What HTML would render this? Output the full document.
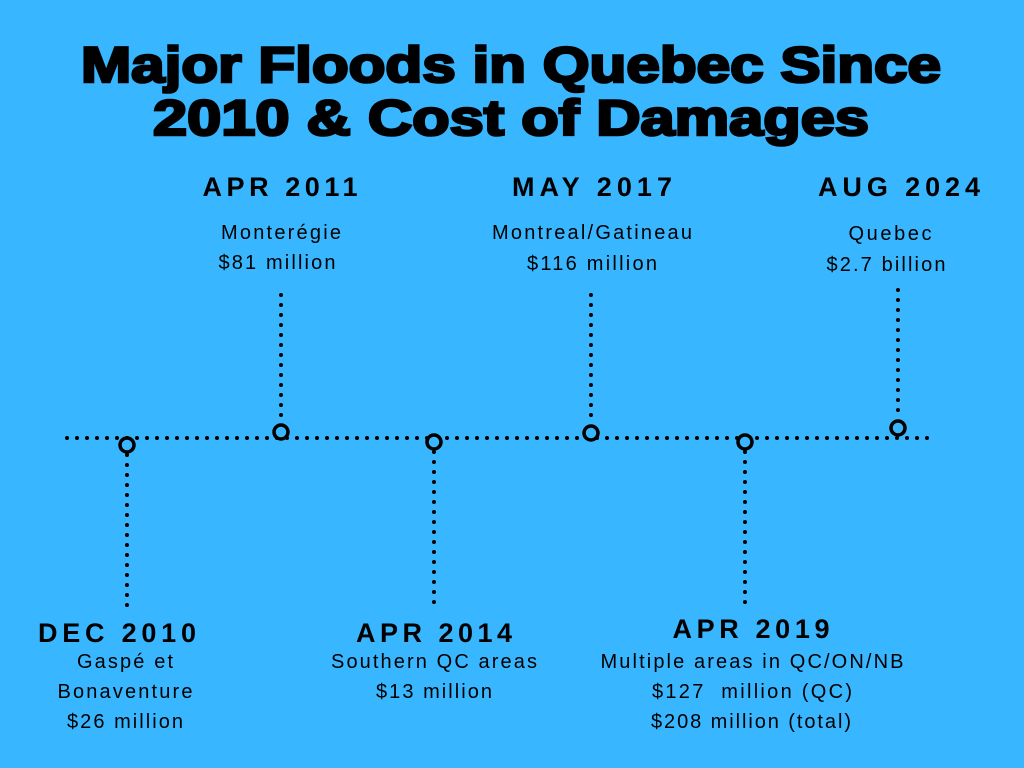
<!DOCTYPE html>
<html><head><meta charset="utf-8"><style>
html,body{margin:0;padding:0;background:#38b6ff;}
svg{display:block}
.t{font-family:"Liberation Sans",sans-serif;font-weight:bold;font-size:50px;fill:#000;stroke:#000;stroke-width:2.6px}
.h{font-family:"Liberation Sans",sans-serif;font-weight:bold;font-size:27px;fill:#000}
.s{font-family:"Liberation Sans",sans-serif;font-size:20px;fill:#000}
.d{stroke:#000;stroke-width:4;stroke-linecap:round;stroke-dasharray:0 10;fill:none}
.c{fill:none;stroke:#000;stroke-width:3.5}
</style></head><body>
<svg width="1024" height="768" xmlns="http://www.w3.org/2000/svg">
<rect width="1024" height="768" fill="#38b6ff"/>
<text class="t" x="511" y="82" text-anchor="middle" textLength="860" lengthAdjust="spacingAndGlyphs">Major Floods in Quebec Since</text>
<text class="t" x="511" y="135" text-anchor="middle" textLength="716" lengthAdjust="spacingAndGlyphs">2010 &amp; Cost of Damages</text>
<line class="d" x1="67" y1="438" x2="930" y2="438"/>
<line class="d" x1="127" y1="455" x2="127" y2="608"/>
<line class="d" x1="281" y1="295" x2="281" y2="424"/>
<line class="d" x1="434" y1="452" x2="434" y2="606"/>
<line class="d" x1="591" y1="295" x2="591" y2="424"/>
<line class="d" x1="745" y1="452" x2="745" y2="605"/>
<line class="d" x1="898" y1="290" x2="898" y2="420"/>
<g class="c">
<circle cx="127" cy="445" r="7" fill="#38b6ff"/>
<circle cx="281" cy="432" r="7" fill="#38b6ff"/>
<circle cx="434" cy="442" r="7" fill="#38b6ff"/>
<circle cx="591" cy="433" r="7" fill="#38b6ff"/>
<circle cx="745" cy="442" r="7" fill="#38b6ff"/>
<circle cx="898" cy="428" r="7" fill="#38b6ff"/>
</g>
<text class="h" x="280" y="196" text-anchor="middle" textLength="155">APR 2011</text>
<text class="s" x="281" y="239" text-anchor="middle" textLength="120">Monterégie</text>
<text class="s" x="277" y="269" text-anchor="middle" textLength="117">$81 million</text>
<text class="h" x="592" y="196" text-anchor="middle" textLength="160">MAY 2017</text>
<text class="s" x="592" y="239" text-anchor="middle" textLength="200">Montreal/Gatineau</text>
<text class="s" x="592" y="270" text-anchor="middle" textLength="130">$116 million</text>
<text class="h" x="899" y="196" text-anchor="middle" textLength="162">AUG 2024</text>
<text class="s" x="890" y="240" text-anchor="middle" textLength="83">Quebec</text>
<text class="s" x="886" y="271" text-anchor="middle" textLength="119">$2.7 billion</text>
<text class="h" x="117" y="642" text-anchor="middle" textLength="158">DEC 2010</text>
<text class="s" x="125" y="668" text-anchor="middle" textLength="96">Gaspé et</text>
<text class="s" x="125" y="698" text-anchor="middle" textLength="135">Bonaventure</text>
<text class="s" x="125" y="728" text-anchor="middle" textLength="116">$26 million</text>
<text class="h" x="434" y="642" text-anchor="middle" textLength="156">APR 2014</text>
<text class="s" x="434" y="668" text-anchor="middle" textLength="206">Southern QC areas</text>
<text class="s" x="434" y="698" text-anchor="middle" textLength="116">$13 million</text>
<text class="h" x="751" y="638" text-anchor="middle" textLength="157">APR 2019</text>
<text class="s" x="752" y="668" text-anchor="middle" textLength="303">Multiple areas in QC/ON/NB</text>
<text class="s" x="752" y="698" text-anchor="middle" textLength="200" xml:space="preserve">$127  million (QC)</text>
<text class="s" x="751" y="728" text-anchor="middle" textLength="200">$208 million (total)</text>
</svg>
</body></html>
